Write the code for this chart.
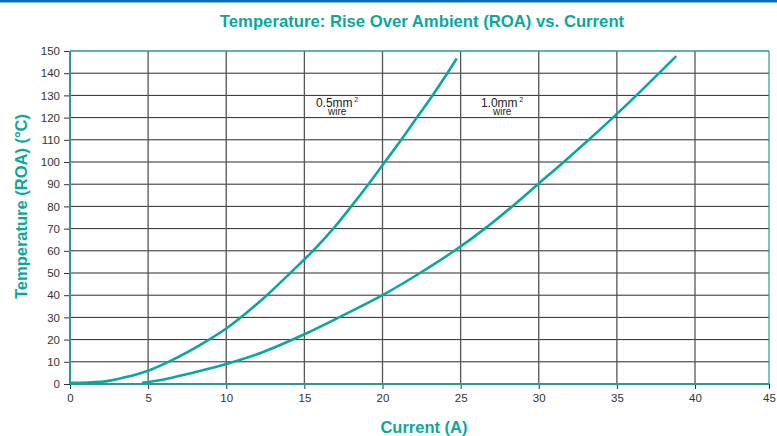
<!DOCTYPE html>
<html>
<head>
<meta charset="utf-8">
<script src="https://cdn.jsdelivr.net/npm/d3@7"></script>
<style>
  body { margin: 0; background: #fff; }
  svg { display: block; font-family: 'Liberation Sans', Arial, sans-serif; }
</style>
</head>
<body>
<div id="chart"></div>
<script>
// values
const xTicks = [0, 5, 10, 15, 20, 25, 30, 35, 40, 45]
const yTicks = [0, 10, 20, 30, 40, 50, 60, 70, 80, 90, 100, 110, 120, 130, 140, 150]

const wire05Current = [0, 2, 3.5, 5, 6.3, 8.9, 10, 12.6, 14.1, 15.55, 16.85, 18, 19.1, 20.15, 21.2, 22.2, 23.2, 24.15, 24.75]
const wire05Temp = [0.5, 1, 3, 6, 10, 20, 25, 40, 50, 60, 70, 80, 90, 100, 110, 120, 130, 140, 146.6]

const wire10Current = [4.6, 6, 7.5, 10, 12.2, 15, 17.5, 20, 22.4, 24.6, 26.55, 28.3, 29.95, 31.6, 33.2, 34.75, 36.25, 37.7, 38.8]
const wire10Temp = [0.5, 2, 4.5, 9, 14, 22.4, 31, 40, 50, 60, 70, 80, 90, 100, 110, 120, 130, 140, 147.7]

const teal = '#0aa89a'

const margin = {
  top: 51,
  right: 8,
  bottom: 52,
  left: 70
}

const width = 777 - margin.left - margin.right
const height = 436 - margin.top - margin.bottom

const root = d3
  .select('#chart')
  .append('svg')
  .attr('width', 777)
  .attr('height', 436)

// blue strip across the top of the page
root
  .append('rect')
  .attr('x', 0)
  .attr('y', 0)
  .attr('width', 777)
  .attr('height', 2.5)
  .attr('fill', '#0b6fb8')

root
  .append('text')
  .text('Temperature: Rise Over Ambient (ROA) vs. Current')
  .attr('x', 422)
  .attr('y', 27)
  .attr('text-anchor', 'middle')
  .attr('font-size', 16.7)
  .attr('font-weight', 'bold')
  .attr('fill', teal)

const svg = root
  .append('g')
  .attr('transform', 'translate(' + margin.left + ',' + margin.top + ')')

// the last column of the original grid is a little narrower
const xPositionScale = d3
  .scaleLinear()
  .domain([0, 40, 45])
  .range([0, 625, width])

const yPositionScale = d3
  .scaleLinear()
  .domain([0, 150])
  .range([height, 0])

// grid
svg
  .append('g')
  .attr('class', 'grid-y')
  .selectAll('line')
  .data(yTicks.filter(d => d > 0 && d < 150))
  .enter()
  .append('line')
  .attr('x1', 0)
  .attr('x2', width)
  .attr('y1', d => yPositionScale(d))
  .attr('y2', d => yPositionScale(d))
  .attr('stroke', '#2a2a2a')
  .attr('stroke-width', 1)

svg
  .append('g')
  .attr('class', 'grid-x')
  .selectAll('line')
  .data(xTicks.filter(d => d > 0 && d < 45))
  .enter()
  .append('line')
  .attr('x1', d => xPositionScale(d))
  .attr('x2', d => xPositionScale(d))
  .attr('y1', 0)
  .attr('y2', height)
  .attr('stroke', '#555')
  .attr('stroke-width', 1.3)

// frame: top and right
svg
  .append('line')
  .attr('x1', 0)
  .attr('x2', width)
  .attr('y1', 0)
  .attr('y2', 0)
  .attr('stroke', '#2a9a8e')
  .attr('stroke-width', 1.6)

svg
  .append('line')
  .attr('x1', width)
  .attr('x2', width)
  .attr('y1', 0)
  .attr('y2', height)
  .attr('stroke', '#2a9a8e')
  .attr('stroke-width', 1.2)

// axes
const xAxis = d3
  .axisBottom(xPositionScale)
  .tickValues(xTicks)
  .tickSize(5)
  .tickPadding(5)

const yAxis = d3
  .axisLeft(yPositionScale)
  .tickValues(yTicks)
  .tickSize(6)
  .tickPadding(4)

svg
  .append('g')
  .attr('class', 'axis x-axis')
  .attr('transform', 'translate(0,' + height + ')')
  .call(xAxis)

svg
  .append('g')
  .attr('class', 'axis y-axis')
  .call(yAxis)

svg.selectAll('.axis .domain').remove()
svg.selectAll('.axis line').attr('stroke', '#333')
svg
  .selectAll('.axis text')
  .attr('font-size', 11.5)
  .attr('font-family', "'Liberation Sans', Arial, sans-serif")
  .attr('fill', '#333')

svg
  .append('line')
  .attr('x1', 0)
  .attr('x2', 0)
  .attr('y1', 0)
  .attr('y2', height)
  .attr('stroke', '#2a9a8e')
  .attr('stroke-width', 2)

svg
  .append('line')
  .attr('x1', 0)
  .attr('x2', width)
  .attr('y1', height)
  .attr('y2', height)
  .attr('stroke', '#2a9a8e')
  .attr('stroke-width', 2.2)

// curves
const line = d3
  .line()
  .x(d => xPositionScale(d[0]))
  .y(d => yPositionScale(d[1]))
  .curve(d3.curveMonotoneX)

const series = [
  d3.zip(wire05Current, wire05Temp),
  d3.zip(wire10Current, wire10Temp)
]

svg
  .selectAll('.curve')
  .data(series)
  .enter()
  .append('path')
  .attr('class', 'curve')
  .attr('d', d => line(d))
  .attr('fill', 'none')
  .attr('stroke', teal)
  .attr('stroke-width', 2.6)

// wire labels
const labels = [
  { name: '0.5mm', x: 15.74 },
  { name: '1.0mm', x: 26.3 }
]

labels.forEach(d => {
  const left = xPositionScale(d.x)
  const t = svg
    .append('text')
    .attr('x', left)
    .attr('y', yPositionScale(124.6))
    .attr('font-size', 12)
    .attr('fill', '#222')
  t.append('tspan').text(d.name)
  t.append('tspan')
    .text('2')
    .attr('font-size', 7)
    .attr('dx', 1.5)
    .attr('dy', -5)
  t.append('tspan')
    .text('wire')
    .attr('x', left + 12)
    .attr('dy', 13)
    .attr('font-size', 10)
})

// axis titles
root
  .append('text')
  .text('Current (A)')
  .attr('x', 424)
  .attr('y', 433)
  .attr('text-anchor', 'middle')
  .attr('font-size', 16.5)
  .attr('font-weight', 'bold')
  .attr('fill', teal)

root
  .append('text')
  .text('Temperature (ROA) (°C)')
  .attr('transform', 'translate(27,206.5) rotate(-90)')
  .attr('text-anchor', 'middle')
  .attr('font-size', 16.5)
  .attr('font-weight', 'bold')
  .attr('fill', teal)
</script>
</body>
</html>
